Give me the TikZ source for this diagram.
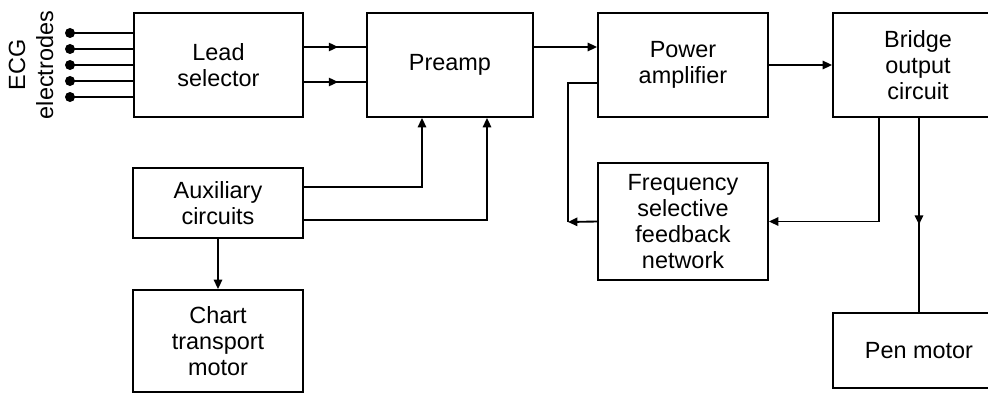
\documentclass[tikz,border=0pt]{standalone}
\usepackage{fontspec}
\setmainfont{Liberation Sans}
\usetikzlibrary{arrows.meta,decorations.markings}
\begin{document}
\begin{tikzpicture}[x=0.03cm,y=-0.03cm,
  line width=1.6pt,
  blk/.style={draw, line width=1.6pt, align=center, inner sep=0pt,
    font=\fontsize{20}{22}\selectfont},
  arr/.style={-{Triangle[length=2.8mm,width=2.5mm]}},
  midarrow/.style={decoration={markings, mark=at position 0.55 with {\arrow{Triangle[length=2.8mm,width=2.5mm]}}}, postaction={decorate}},
  edot/.style={circle, fill, inner sep=0pt, minimum size=0.3cm}]
\useasboundingbox (0,0) rectangle (988,394);
\clip (0,0) rectangle (988,394);
% blocks
\node[blk, minimum width=5.07cm, minimum height=3.12cm] (lead) at (218.5,65) {Lead\\selector};
\node[blk, minimum width=4.98cm, minimum height=3.12cm] (preamp) at (450,65) {Preamp};
\node[blk, minimum width=5.1cm, minimum height=3.12cm] (power) at (683,65) {Power\\amplifier};
\node[blk, minimum width=5.1cm, minimum height=3.12cm] (bridge) at (918,65) {Bridge\\output\\circuit};
\node[blk, minimum width=5.1cm, minimum height=2.1cm] (aux) at (218,203) {Auxiliary\\circuits};
\node[blk, minimum width=5.1cm, minimum height=3.06cm] (chart) at (218,341) {Chart\\transport\\motor};
\node[blk, minimum width=5.1cm, minimum height=3.51cm] (fsfn) at (683,221.5) {Frequency\\selective\\feedback\\network};
\node[blk, minimum width=5.16cm, minimum height=2.25cm] (pen) at (919,350.5) {Pen motor};
% electrodes
\node[rotate=90, align=center, inner sep=0pt, font=\fontsize{20}{24}\selectfont] (ecg) at (31,65) {ECG\\electrodes};
\foreach \i/\y in {1/33,2/49,3/65,4/81,5/97}{
  \node[edot] (e\i) at (70,\y) {};
  \draw (e\i.center) -- (e\i.center -| lead.west);
}
% connectors
\draw[midarrow] (lead.east |- 0,47) -- (preamp.west |- 0,47);
\draw[midarrow] (lead.east |- 0,82) -- (preamp.west |- 0,82);
\draw[arr] (preamp.east |- 0,47) -- (power.west |- 0,47);
\draw[arr] (power.east) -- (bridge.west);
\draw[arr] (aux.east |- 0,187) -| (preamp.south -| 422,0);
\draw[arr] (aux.east |- 0,220) -| (preamp.south -| 487,0);
\draw[arr] (aux.south) -- (chart.north);
\draw[arr] (bridge.south -| 879,0) |- (fsfn.east);
\coordinate (fbc) at (568,222);
\draw[arr] (fsfn.west) -- (fbc);
\draw (fbc) |- (power.west |- 0,83);
\draw[midarrow] (bridge.south -| pen.north) -- (pen.north);
\end{tikzpicture}
\end{document}
